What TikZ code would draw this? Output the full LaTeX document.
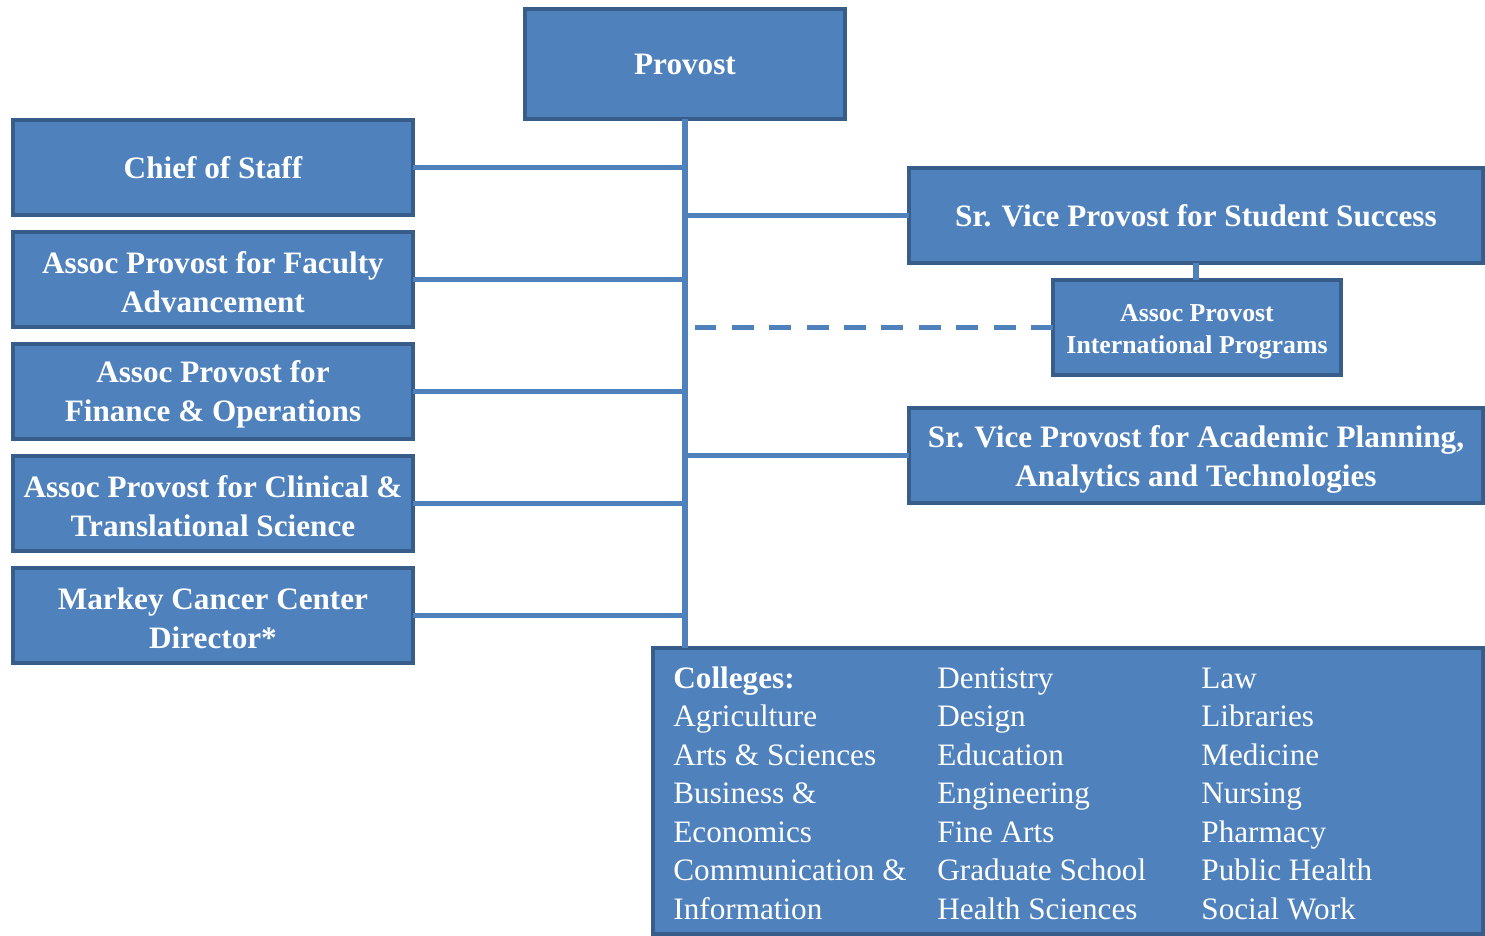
\documentclass[tikz,border=0pt]{standalone}
\usepackage{fontspec}
\setmainfont{Liberation Serif}
\definecolor{boxfill}{HTML}{4F81BD}
\definecolor{boxline}{HTML}{385D8A}
\definecolor{connline}{HTML}{4F81BD}
\begin{document}
\begin{tikzpicture}[x=0.5pt,y=-0.5pt,
  unitbox/.style={draw=boxline, fill=boxfill, line width=2pt, text=white,
    font=\fontsize{15.6}{19.5}\selectfont\bfseries, align=center,
    inner sep=0pt, outer sep=0pt},
  leftbox/.style={unitbox, minimum width=200pt, minimum height=47.5pt},
  rightbox/.style={unitbox, minimum width=287pt, minimum height=47.5pt},
  smallbox/.style={unitbox, minimum width=144pt, minimum height=47.5pt,
    font=\fontsize{12.9}{16}\selectfont\bfseries},
  collist/.style={text=white, font=\fontsize{15.6}{19.25}\selectfont,
    align=left, inner sep=0pt, anchor=north west},
  connector/.style={draw=connline, line width=2.6pt},
  dashconn/.style={connector, dash pattern=on 11pt off 7.7pt},
]
\useasboundingbox (0,0) rectangle (1485,936);

\node[unitbox, minimum width=160pt, minimum height=55pt] (provost) at (685,64) {Provost};

\node[leftbox] (chief)   at (213,167.5) {Chief\ of\ Staff};
\node[leftbox] (faculty) at (213,279.5) {\strut Assoc Provost for Faculty\\Advancement};
\node[leftbox] (finance) at (213,391.5) {\strut Assoc Provost for\\Finance \& Operations};
\node[leftbox] (clinical) at (213,503.5) {\strut Assoc Provost for Clinical \&\\Translational Science};
\node[leftbox] (markey)  at (213,615.5) {\strut Markey Cancer Center\\Director*};

\node[rightbox] (success) at (1196,215.5) {Sr. Vice Provost for Student Success};
\node[smallbox] (intl) at (1197,327.5) {\rule{0pt}{13pt}Assoc Provost\\International Programs};
\node[rightbox] (academic) at (1196,455.5) {\rule{0pt}{15pt}Sr. Vice Provost for Academic Planning,\\Analytics and Technologies};

\node[unitbox, minimum width=415pt, minimum height=143pt] (colleges) at (1068,791) {};
\node[collist] (col1) at (673,661) {\strut\textbf{Colleges:}\\Agriculture\\Arts \& Sciences\\Business \&\\Economics\\Communication \&\\Information};
\node[collist] (col2) at (937,661) {\strut Dentistry\\Design\\Education\\Engineering\\Fine Arts\\Graduate School\\Health Sciences};
\node[collist] (col3) at (1201,661) {\strut Law\\Libraries\\Medicine\\Nursing\\Pharmacy\\Public Health\\Social Work};

\coordinate (dashend) at ([xshift=5pt]provost.south |- intl.west);

\draw[connector] (provost.south) -- (provost.south |- colleges.north);
\foreach \n in {chief,faculty,finance,clinical,markey}
  \draw[connector] (\n.east) -- (\n.east -| provost.south);
\draw[connector] (success.west) -- (success.west -| provost.south);
\draw[connector] (academic.west) -- (academic.west -| provost.south);
\draw[connector] (success.south) -- (success.south |- intl.north);
\draw[dashconn] (intl.west) -- (dashend);
\end{tikzpicture}
\end{document}
